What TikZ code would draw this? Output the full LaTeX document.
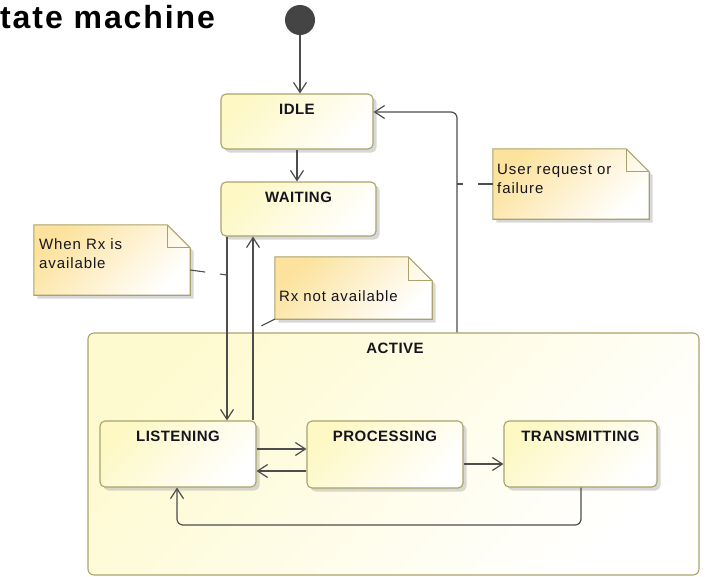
\documentclass[tikz,border=0pt]{standalone}
\usepackage{fontspec}
\setmainfont{Liberation Sans}
\newfontfamily\statesans{Liberation Sans}[LetterSpace=3]
\newfontfamily\notesans{Liberation Sans}[LetterSpace=6]
\newfontfamily\titlesans{Liberation Sans}[LetterSpace=6]
\usetikzlibrary{arrows.meta,calc,shadows}

\definecolor{edge}{HTML}{4D4D4D}
\definecolor{boxline}{HTML}{A9A36B}
\definecolor{boxfill}{HTML}{FDF8C4}
\definecolor{activefill}{HTML}{FEFAD0}
\definecolor{notefill}{HTML}{FCE29C}
\definecolor{ink}{HTML}{15151F}
\definecolor{dotfill}{HTML}{444444}

\tikzset{
  shadowed/.style={drop shadow={shadow xshift=3.5pt, shadow yshift=-3.5pt, fill=black!30}},
  stbox/.style={draw=boxline, line width=1.1pt, rounded corners=5pt, inner sep=0pt,
    top color=boxfill, bottom color=white, shading angle=45, shadowed},
  activebox/.style={draw=boxline, line width=1.1pt, rounded corners=6pt, inner sep=0pt,
    top color=activefill, bottom color=white, shading angle=45},
  sttitle/.style={anchor=base, inner sep=0pt, text=ink,
    font=\statesans\bfseries\fontsize{15pt}{17pt}\selectfont},
  notearea/.style={inner sep=0pt},
  notebody/.style={draw=boxline, line width=1.1pt, top color=notefill, bottom color=white,
    shading angle=45, shadowed},
  notefold/.style={draw=boxline, line width=1.1pt},
  notetext/.style={anchor=base west, inner sep=0pt, align=left, text=ink,
    font=\notesans\fontsize{15pt}{18.5pt}\selectfont},
  flow/.style={draw=edge, line width=1.2pt, -{Straight Barb[length=10pt,width=13pt]}},
  pinline/.style={draw=edge, line width=1.1pt, dash pattern=on 15pt off 15pt},
}

% dog-eared note outline around a node: #1 node name, #2 fold size
\newcommand\dogear[2]{%
  \path[notebody] (#1.north west) -- ($(#1.north east)+(-#2,0)$) -- ($(#1.north east)+(0,#2)$)
    -- (#1.south east) -- (#1.south west) -- cycle;
  \draw[notefold] ($(#1.north east)+(-#2,0)$) -- ($(#1.north east)+(-#2,#2)$) -- ($(#1.north east)+(0,#2)$);
}

\begin{document}
\begin{tikzpicture}[x=1pt,y=-1pt]
\useasboundingbox (0,0) rectangle (706,576);

% title
\node[anchor=base west, inner sep=0pt, font=\titlesans\bfseries\fontsize{32pt}{36pt}\selectfont]
  (title) at (0,28) {tate machine};

% initial pseudo-state
\node[circle, fill=dotfill, minimum size=30pt, inner sep=0pt] (init) at (300,20) {};

% composite state
\node[activebox, minimum width=611pt, minimum height=242pt] (active) at (393.5,454) {};
\node[sttitle] (activeT) at ($(active.north)+(1.5,21)$) {ACTIVE};

% simple states
\node[stbox, minimum width=152pt, minimum height=55pt] (idle) at (297,121.5) {};
\node[sttitle] (idleT) at ($(idle.north)+(0,21)$) {IDLE};

\node[stbox, minimum width=155pt, minimum height=54pt] (waiting) at (298.5,209) {};
\node[sttitle] (waitingT) at ($(waiting.north)+(0,21)$) {WAITING};

\node[stbox, minimum width=156pt, minimum height=66pt] (listening) at (178,454) {};
\node[sttitle] (listeningT) at ($(listening.north)+(0,21)$) {LISTENING};

\node[stbox, minimum width=156pt, minimum height=67pt] (processing) at (385,454.5) {};
\node[sttitle] (processingT) at ($(processing.north)+(0,21)$) {PROCESSING};

\node[stbox, minimum width=153pt, minimum height=66pt] (transmitting) at (580.5,454) {};
\node[sttitle] (transmittingT) at ($(transmitting.north)+(0,21)$) {TRANSMITTING};

% guide coordinates for the orthogonal connectors
\coordinate (downCol) at (227,0);
\coordinate (upCol) at (253,0);
\coordinate (retCol) at (457,0);
\coordinate (retRow) at (0,112);
\coordinate (lpRow) at (0,449);
\coordinate (plRow) at (0,471);
\coordinate (ptRow) at (0,464);
\coordinate (loopRow) at (0,525);
\coordinate (tCol) at (581,0);
\coordinate (lCol) at (177,0);

% transitions
\draw[flow] (init) -- (init |- idle.north);
\draw[flow] (idle.south) -- (idle.south |- waiting.north);
\draw[flow] (waiting.south -| downCol) -- (listening.north -| downCol);
\draw[flow] (listening.north -| upCol) -- (waiting.south -| upCol);
\draw[flow, rounded corners=6pt] (active.north -| retCol) -- (retCol |- retRow) -- (idle.east |- retRow);
\draw[flow] (listening.east |- lpRow) -- (processing.west |- lpRow);
\draw[flow] (processing.west |- plRow) -- (listening.east |- plRow);
\draw[flow] (processing.east |- ptRow) -- (transmitting.west |- ptRow);
\draw[flow, rounded corners=6pt] (transmitting.south -| tCol) -- (tCol |- loopRow)
  -- (lCol |- loopRow) -- (listening.south -| lCol);

% notes
\node[notearea, minimum width=156pt, minimum height=70pt] (n1) at (571,184) {};
\dogear{n1}{23}
\node[notetext] (n1t) at (497,193) {User request or\\failure};

\node[notearea, minimum width=156pt, minimum height=70pt] (n2) at (112,260) {};
\dogear{n2}{23}
\node[notetext] (n2t) at (39,268) {When Rx is\\available};

\node[notearea, minimum width=157pt, minimum height=62pt] (n3) at (353.5,288) {};
\dogear{n3}{24}
\node[notetext] (n3t) at (279,301) {Rx not available};

% note attachments
\coordinate (n2pin) at (227,275);
\coordinate (n3pin) at (253,330);
\draw[pinline] (n1.west) -- (n1.west -| retCol);
\draw[pinline] ($(n2.east)+(0,10)$) -- (n2pin);
\draw[pinline] (n3.south west) -- (n3pin);
\end{tikzpicture}
\end{document}
